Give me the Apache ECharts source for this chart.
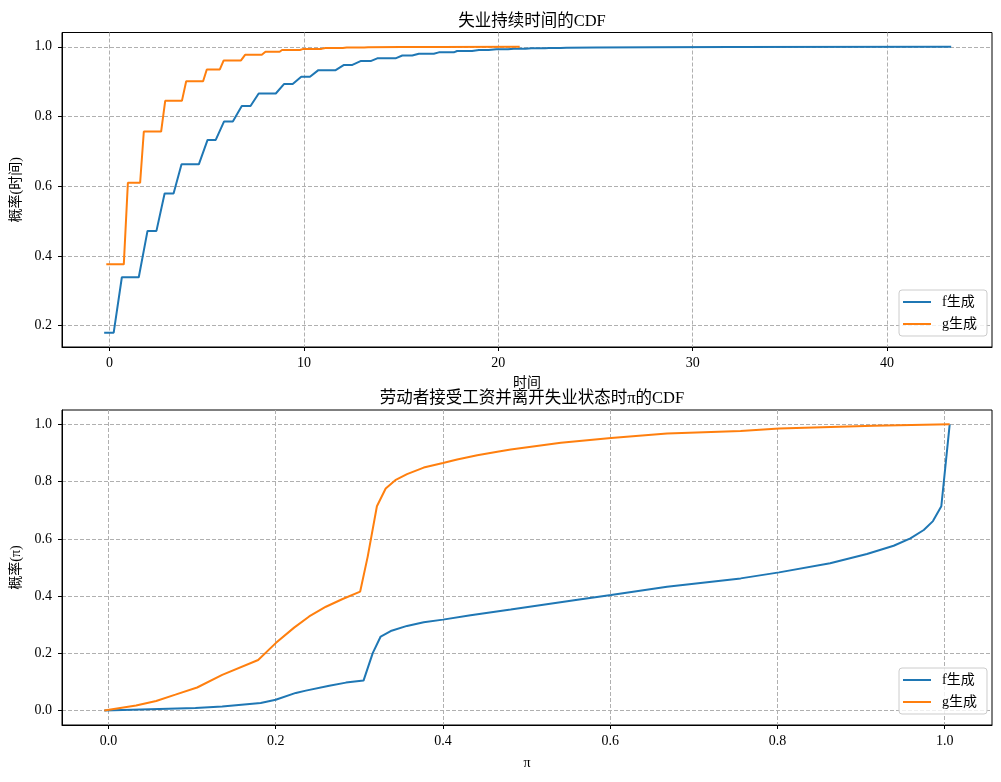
<!DOCTYPE html>
<html>
<head>
<meta charset="utf-8">
<script src="https://cdn.jsdelivr.net/npm/echarts@6/dist/echarts.min.js"></script>
<style>html,body{margin:0;padding:0;background:#fff;}#c{width:1001px;height:782px;}</style>
</head>
<body>
<div id="c"></div>
<script>
// ---- Top chart: unemployment duration CDF ----
const durFX = [-0.28,0.21,0.63,1.5,1.95,2.41,2.83,3.29,3.70,4.59,5.04,5.46,5.89,6.34,6.80,7.25,7.67,8.55,8.97,9.42,9.86,10.31,10.74,11.63,12.06,12.49,12.91,13.43,13.77,14.71,15.06,15.57,15.91,16.68,16.94,17.71,17.88,18.65,19.0,19.5,19.9,20.5,20.8,21.4,21.7,22.4,22.6,23.2,23.5,25,28,32,43.3];
const durFY = [0.18,0.18,0.339,0.339,0.472,0.472,0.579,0.579,0.663,0.663,0.733,0.733,0.786,0.786,0.830,0.830,0.866,0.866,0.893,0.893,0.914,0.914,0.933,0.933,0.948,0.948,0.959,0.959,0.967,0.967,0.975,0.975,0.980,0.980,0.984,0.984,0.988,0.988,0.991,0.991,0.993,0.993,0.9945,0.9945,0.9956,0.9956,0.9965,0.9965,0.9972,0.998,0.999,0.9996,0.9999];
const durGX = [-0.17,0.73,0.94,1.57,1.76,2.65,2.86,3.72,3.94,4.81,5.0,5.67,5.87,6.76,6.97,7.83,8.02,8.75,8.87,9.79,9.97,10.9,11.1,12.0,12.2,13.1,13.3,15,17,21.1];
const durGY = [0.376,0.376,0.61,0.61,0.757,0.757,0.845,0.845,0.901,0.901,0.935,0.935,0.961,0.961,0.977,0.977,0.986,0.986,0.991,0.991,0.994,0.994,0.9963,0.9963,0.9977,0.9977,0.9986,0.9992,0.9996,0.9999];
const durXTicks = [0,10,20,30,40];
const durYTicks = [0.2,0.4,0.6,0.8,1.0];

// ---- Bottom chart: CDF of pi when worker accepts wage ----
const piFX = [-0.005,0.104,0.136,0.182,0.2,0.224,0.236,0.264,0.284,0.305,0.316,0.3255,0.3375,0.357,0.377,0.400,0.433,0.481,0.561,0.601,0.668,0.756,0.802,0.863,0.907,0.939,0.959,0.975,0.986,0.996,1.006];
const piFY = [0.001,0.009,0.015,0.027,0.038,0.062,0.070,0.087,0.098,0.105,0.201,0.259,0.278,0.296,0.309,0.318,0.333,0.353,0.387,0.404,0.433,0.462,0.483,0.515,0.547,0.576,0.602,0.631,0.662,0.714,1.0];
const piGX = [-0.005,0.033,0.057,0.080,0.106,0.136,0.179,0.2,0.222,0.240,0.260,0.280,0.301,0.310,0.321,0.3315,0.343,0.357,0.377,0.400,0.417,0.441,0.465,0.481,0.541,0.601,0.668,0.756,0.802,0.915,1.006];
const piGY = [0.001,0.018,0.034,0.056,0.081,0.125,0.177,0.236,0.290,0.329,0.363,0.390,0.416,0.538,0.714,0.776,0.805,0.826,0.849,0.865,0.877,0.892,0.904,0.912,0.936,0.952,0.968,0.977,0.985,0.995,1.0];
const piXTicks = [0,0.2,0.4,0.6,0.8,1.0];
const piYTicks = [0,0.2,0.4,0.6,0.8,1.0];

const names = ['f生成','g生成'];
const colors = ['#1f77b4','#ff7f0e'];
const FONT = "'Liberation Serif','Noto Sans CJK SC',serif";

function zip(xs, ys){ return xs.map((x,i)=>[x, ys[i]]); }

const chart = echarts.init(document.getElementById('c'), null, {renderer:'canvas'});

function xAxis(gridIndex, min, max, ticks, name, fmt, nameGap){
  return {
    type:'value', gridIndex, min, max,
    name, nameLocation:'middle', nameGap,
    nameTextStyle:{color:'#000', fontSize:14, fontFamily:FONT},
    axisLine:{show:true, onZero:false, lineStyle:{color:'#000', width:1}},
    axisTick:{show:true, inside:false, length:4, customValues:ticks, lineStyle:{color:'#000'}},
    axisLabel:{show:true, customValues:ticks, margin:9, color:'#000', fontSize:14, fontFamily:FONT, formatter:fmt},
    splitLine:{show:true, lineStyle:{color:'#b0b0b0', width:1, type:[4,2]}}
  };
}
function yAxis(gridIndex, min, max, ticks, name, fmt){
  return {
    type:'value', gridIndex, min, max,
    name, nameLocation:'middle', nameGap:38, nameRotate:90,
    nameTextStyle:{color:'#000', fontSize:14, fontFamily:FONT},
    axisLine:{show:true, onZero:false, lineStyle:{color:'#000', width:1}},
    axisTick:{show:true, inside:false, length:4, customValues:ticks, lineStyle:{color:'#000'}},
    axisLabel:{show:true, customValues:ticks, margin:10, color:'#000', fontSize:14, fontFamily:FONT, formatter:fmt},
    splitLine:{show:true, lineStyle:{color:'#b0b0b0', width:1, type:[4,2]}}
  };
}
function legend(top){
  return {
    data:names, orient:'vertical', left:899, top,
    backgroundColor:'rgba(255,255,255,0.8)', borderColor:'#cccccc', borderWidth:1, borderRadius:3,
    padding:[5,10,5,4], itemGap:8, itemWidth:28, itemHeight:14,
    icon:'path://M0,6 L28,6 L28,8 L0,8 Z',
    textStyle:{color:'#000', fontSize:14, fontFamily:FONT, padding:[0,0,0,6]}
  };
}
function line(name, color, data, xi){
  return {
    type:'line', name, data, xAxisIndex:xi, yAxisIndex:xi,
    showSymbol:false, symbol:'none', smooth:false,
    lineStyle:{color, width:2}, itemStyle:{color}, z:3
  };
}

chart.setOption({
  animation:false,
  backgroundColor:'#fff',
  textStyle:{fontFamily:FONT},
  title:[
    {text:'失业持续时间的CDF', left:527, textAlign:'center', top:8, textStyle:{fontSize:16.5, fontWeight:'normal', color:'#000', fontFamily:FONT}},
    {text:'劳动者接受工资并离开失业状态时π的CDF', left:527, textAlign:'center', top:385, textStyle:{fontSize:16.5, fontWeight:'normal', color:'#000', fontFamily:FONT}}
  ],
  grid:[
    {left:62, top:32.5, width:930, height:314.5, show:true, borderColor:'#000', borderWidth:1, backgroundColor:'transparent'},
    {left:62, top:410, width:930, height:315, show:true, borderColor:'#000', borderWidth:1, backgroundColor:'transparent'}
  ],
  xAxis:[
    xAxis(0, -2.45, 45.4, durXTicks, '时间', v=>String(v), 29),
    xAxis(1, -0.0556, 1.0566, piXTicks, 'π', v=>v.toFixed(1), 31)
  ],
  yAxis:[
    yAxis(0, 0.139, 1.041, durYTicks, '概率(时间)', v=>v.toFixed(1)),
    yAxis(1, -0.05, 1.05, piYTicks, '概率(π)', v=>v.toFixed(1))
  ],
  legend:[legend(290), legend(668)],
  series:[
    line(names[0], colors[0], zip(durFX, durFY), 0),
    line(names[1], colors[1], zip(durGX, durGY), 0),
    line(names[0], colors[0], zip(piFX, piFY), 1),
    line(names[1], colors[1], zip(piGX, piGY), 1)
  ]
});
</script>
</body>
</html>
